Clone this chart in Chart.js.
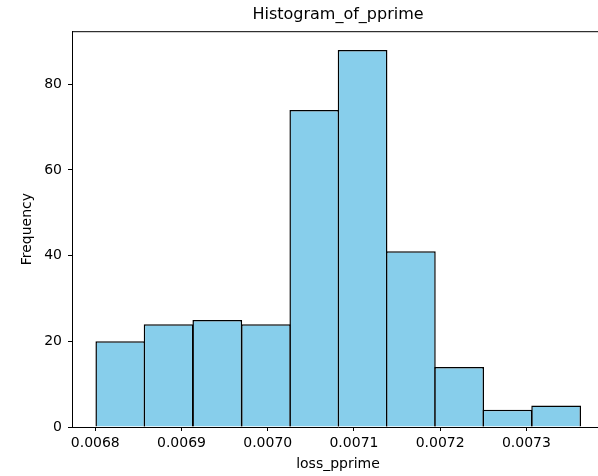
<!DOCTYPE html>
<html>
<head>
<meta charset="utf-8">
<script src="https://cdn.jsdelivr.net/npm/chart.js@4.4.1/dist/chart.umd.min.js"></script>
<style>
  html, body { margin: 0; padding: 0; background: #fff; overflow: hidden; }
  #wrap { width: 598px; height: 476px; overflow: hidden; }
</style>
</head>
<body>
<div id="wrap">
  <canvas id="hist" width="640" height="476"></canvas>
</div>
<script>
// histogram of loss_pprime, 10 bins (edges)
var binEdges = [0.006801, 0.006857, 0.006913, 0.006970, 0.007026, 0.007082,
                0.007138, 0.007194, 0.007250, 0.007306, 0.007363];
var counts = [20, 24, 25, 24, 74, 88, 41, 14, 4, 5];
var xTicks = [0.0068, 0.0069, 0.0070, 0.0071, 0.0072, 0.0073];
var yTicks = [0, 20, 40, 60, 80];

var points = [];
for (var i = 0; i < counts.length; i++) {
  points.push({ x: (binEdges[i] + binEdges[i + 1]) / 2, y: counts[i] });
}

var FONT = "'DejaVu Sans', sans-serif";

// draw the top spine (matplotlib box)
var spines = {
  id: "spines",
  afterDraw: function (chart) {
    var a = chart.chartArea, c = chart.ctx;
    c.save();
    c.strokeStyle = "#000";
    c.lineWidth = 1;
    c.beginPath();
    c.moveTo(a.left, a.top + 0.5);
    c.lineTo(a.right, a.top + 0.5);
    c.lineTo(a.right, a.bottom);
    c.stroke();
    c.restore();
  }
};

new Chart(document.getElementById("hist"), {
  type: "bar",
  data: {
    datasets: [{
      label: "loss_pprime",
      data: points,
      backgroundColor: "#87CEEB",
      borderColor: "#000",
      borderWidth: 1.5,
      barPercentage: 1.03,   // slight overlap so neighbouring edges merge into one line
      categoryPercentage: 1
    }]
  },
  options: {
    responsive: false,
    animation: false,
    devicePixelRatio: 1,
    layout: { padding: { left: 0, right: 36, top: 0, bottom: 0 } },
    plugins: {
      legend: { display: false },
      tooltip: { enabled: false },
      title: {
        display: true,
        text: "Histogram_of_pprime",
        fullSize: false,
        color: "#000",
        font: { family: FONT, size: 16, weight: "normal" },
        padding: { top: 5, bottom: 7 }
      }
    },
    scales: {
      x: {
        type: "linear",
        min: 0.006773,
        max: 0.007390,
        offset: false,
        afterBuildTicks: function (s) { s.ticks = xTicks.map(function (v) { return { value: v }; }); },
        afterFit: function (s) { s.height = 49; },
        ticks: {
          color: "#000",
          font: { family: FONT, size: 14 },
          padding: 4,
          maxRotation: 0,
          autoSkip: false,
          callback: function (v) { return v.toFixed(4); }
        },
        grid: { offset: false, drawOnChartArea: false, drawTicks: true, tickLength: 4, color: "#000" },
        border: { display: true, color: "#000", width: 1 },
        title: {
          display: true,
          text: "loss_pprime",
          color: "#000",
          font: { family: FONT, size: 14 },
          padding: { top: 0, bottom: 3 }
        }
      },
      y: {
        min: 0,
        max: 92.4,
        afterBuildTicks: function (s) { s.ticks = yTicks.map(function (v) { return { value: v }; }); },
        afterFit: function (s) { s.width = 72; },
        ticks: {
          color: "#000",
          font: { family: FONT, size: 14 },
          padding: 6,
          callback: function (v) { return String(v); }
        },
        grid: { offset: false, drawOnChartArea: false, drawTicks: true, tickLength: 4, color: "#000" },
        border: { display: true, color: "#000", width: 1 },
        title: {
          display: true,
          text: "Frequency",
          color: "#000",
          font: { family: FONT, size: 14 },
          padding: { top: 19, bottom: 0 }
        }
      }
    }
  },
  plugins: [spines]
});
</script>
</body>
</html>
